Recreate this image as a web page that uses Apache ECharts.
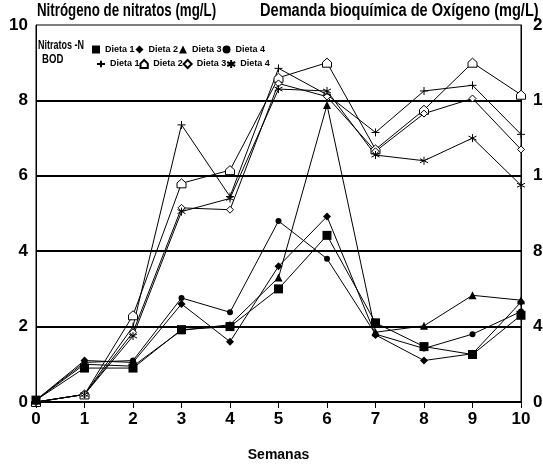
<!DOCTYPE html>
<html><head><meta charset="utf-8">
<script src="https://cdn.jsdelivr.net/npm/echarts@6/dist/echarts.min.js"></script>
<style>html,body{margin:0;padding:0;background:#fff}#c{width:543px;height:468px}</style>
</head><body><div id="c"></div>
<script>
const weeks = [0,1,2,3,4,5,6,7,8,9,10];
const dietas = ['Dieta 1','Dieta 2','Dieta 3','Dieta 4'];
// Nitratos-N (mg/L), left axis
const no3D1 = [0.05,0.90,0.90,1.92,2.00,3.00,4.42,2.10,1.47,1.26,2.30];
const no3D2 = [0.05,1.10,1.05,2.60,1.60,3.60,4.92,1.78,1.10,1.28,2.65];
const no3D3 = [0.05,1.00,0.95,1.90,2.05,3.30,7.88,1.85,2.02,2.83,2.70];
const no3D4 = [0.05,1.05,1.10,2.76,2.38,4.80,3.80,1.80,1.42,1.80,2.40];
// BOD (mg/L), right axis
const bodD1 = [0,4,40,147,109,177,163,143,165,168,142];
const bodD2 = [0,4,46,116,123,172,180,134,155,180,163];
const bodD3 = [0,4,37,103,102,169,162,133,153,161,134];
const bodD4 = [0,4,35,101,108,166,165,131,128,140,115];
const leftTicks = [0,2,4,6,8,10];
const rightTicks = [0,40,80,120,160,200];

const NO3 = [no3D1,no3D2,no3D3,no3D4];
const BOD = [bodD1,bodD2,bodD3,bodD4];
const no3Sym = ['rect','diamond','triangle','circle'];
const no3Size = [9,8,8,6];
const bodSym = [
  'path://M0,5L10,5M5,1L5,9',
  'path://M5,0L10,5L10,11L0,11L0,5Z',
  'path://M5,0L10,5L5,10L0,5Z',
  'path://M5,0L5,10M0,2.5L10,7.5M0,7.5L10,2.5'
];
const bodSize = [[8,8],[9,9],[7,7],[8,8]];
const F = '"Liberation Sans",Arial,sans-serif';

const series = [];
NO3.forEach((arr,i)=>{
  series.push({
    name:'N|'+dietas[i], type:'line', yAxisIndex:0,
    data: weeks.map((w,j)=>[w,arr[j]]),
    symbol:no3Sym[i], symbolSize:no3Size[i], showSymbol:true,
    lineStyle:{color:'#000',width:1}, itemStyle:{color:'#000'},
    animation:false, z:3
  });
});
BOD.forEach((arr,i)=>{
  series.push({
    name:'B|'+dietas[i], type:'line', yAxisIndex:1,
    data: weeks.map((w,j)=>[w,arr[j]]),
    symbol:bodSym[i], symbolSize:bodSize[i], showSymbol:true,
    lineStyle:{color:'#000',width:1},
    itemStyle:{color:'#fff',borderColor:'#000',borderWidth:1},
    animation:false, z:2
  });
});

const legendText = {fontFamily:F,fontWeight:'bold',fontSize:9,color:'#000'};
const chart = echarts.init(document.getElementById('c'),null,{renderer:'canvas'});
chart.setOption({
  animation:false,
  backgroundColor:'#fff',
  grid:{left:36,right:22,top:25,bottom:66,containLabel:false,outerBoundsMode:'none',
        show:true,borderColor:'#000',borderWidth:1,backgroundColor:'transparent'},
  graphic:[
    {type:'text',left:37,top:2,style:{text:'Nitrógeno de nitratos (mg/L)',font:'bold 18px "Liberation Sans",Arial',fill:'#000'},scaleX:0.74},
    {type:'text',left:260,top:2,style:{text:'Demanda bioquímica de Oxígeno (mg/L)',font:'bold 18px "Liberation Sans",Arial',fill:'#000'},scaleX:0.81},
    {type:'text',left:38,top:40,style:{text:'Nitratos -N',font:'bold 12px "Liberation Sans",Arial',fill:'#000'},scaleX:0.75},
    {type:'text',left:42,top:54,style:{text:'BOD',font:'bold 12px "Liberation Sans",Arial',fill:'#000'},scaleX:0.8}
  ],
  legend:[
    {left:87,top:40,itemWidth:8,itemHeight:8,itemGap:1,textStyle:legendText,
     formatter:n=>n.split('|')[1],selectedMode:false,
     data:dietas.map((d,i)=>({name:'N|'+d,icon:no3Sym[i]}))},
    {left:91,top:54,itemWidth:8,itemHeight:8,itemGap:0,textStyle:legendText,
     formatter:n=>n.split('|')[1],selectedMode:false,
     data:dietas.map((d,i)=>({name:'B|'+d,icon:bodSym[i]}))}
  ],
  xAxis:{type:'value',min:0,max:10,interval:1,
    name:'Semanas',nameLocation:'middle',nameGap:46,
    nameTextStyle:{fontFamily:F,fontWeight:'bold',fontSize:14,color:'#000'},
    axisLine:{lineStyle:{color:'#000',width:2}},
    axisTick:{show:true,length:6,lineStyle:{color:'#000',width:1}},
    axisLabel:{color:'#000',fontFamily:F,fontWeight:'bold',fontSize:17,margin:9},
    splitLine:{show:false}},
  yAxis:[
    {type:'value',min:0,max:10,interval:2,position:'left',
     axisLine:{show:true,lineStyle:{color:'#000',width:1}},
     axisTick:{show:false},
     axisLabel:{color:'#000',fontFamily:F,fontWeight:'bold',fontSize:17,margin:8},
     splitLine:{show:true,lineStyle:{color:['transparent','#000','#000','#000','#000','transparent'],width:2}}},
    {type:'value',min:0,max:200,interval:40,position:'right',
     axisLine:{show:true,lineStyle:{color:'#000',width:1}},
     axisTick:{show:false},
     axisLabel:{color:'#000',fontFamily:F,fontWeight:'bold',fontSize:17,margin:12},
     splitLine:{show:false}}
  ],
  series:series
});
</script></body></html>
